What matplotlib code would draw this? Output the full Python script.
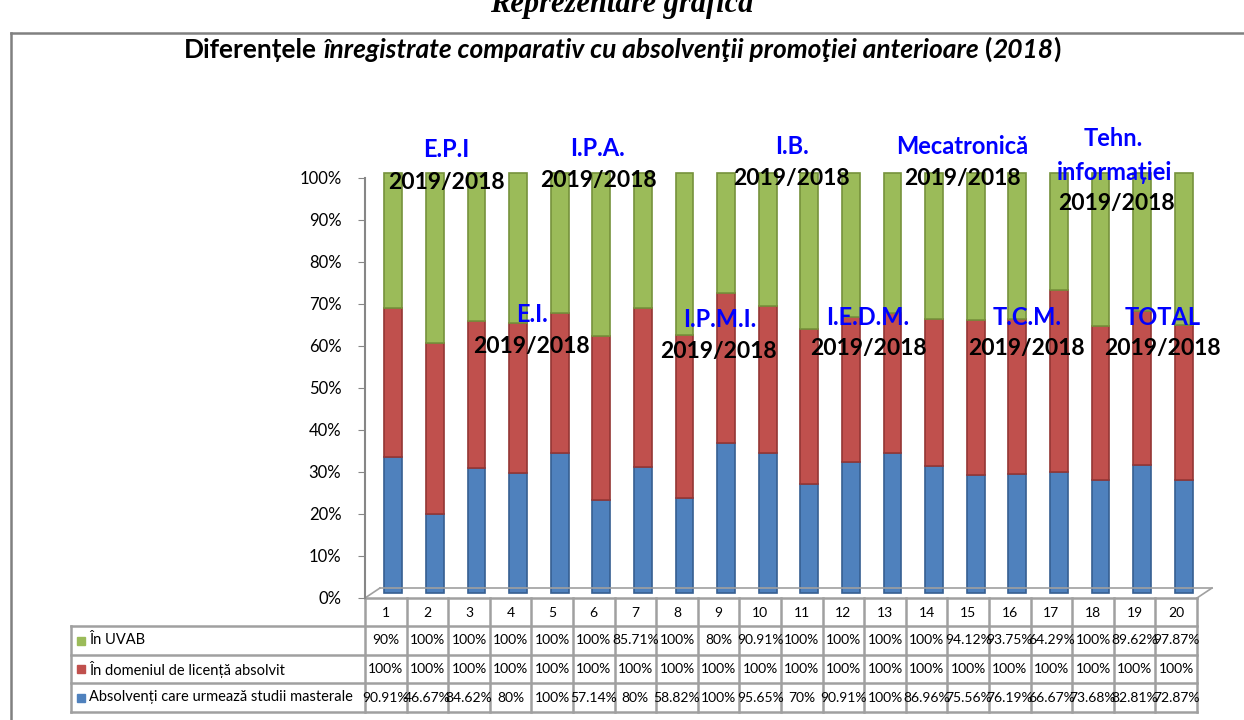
import numpy as np
import matplotlib
matplotlib.use('Agg')
import matplotlib.pyplot as plt
from matplotlib.transforms import ScaledTranslation
from matplotlib.patches import Rectangle

plt.rcParams['font.family'] = ['Lato', 'DejaVu Sans']

#---------------------Data---------------------
categories = ['1', '2', '3', '4', '5', '6', '7', '8', '9', '10',
              '11', '12', '13', '14', '15', '16', '17', '18', '19', '20']
series_names = ['În UVAB', 'În domeniul de licență absolvit',
                'Absolvenți care urmează studii masterale']
uvab = [90, 100, 100, 100, 100, 100, 85.71, 100, 80, 90.91,
        100, 100, 100, 100, 94.12, 93.75, 64.29, 100, 89.62, 97.87]
domeniu = [100, 100, 100, 100, 100, 100, 100, 100, 100, 100,
           100, 100, 100, 100, 100, 100, 100, 100, 100, 100]
masterat = [90.91, 46.67, 84.62, 80, 100, 57.14, 80, 58.82, 100, 95.65,
            70, 90.91, 100, 86.96, 75.56, 76.19, 66.67, 73.68, 82.81, 72.87]

prog_names = ['E.P.I', 'I.P.A.', 'E.I.', 'I.P.M.I.', 'I.B.', 'Mecatronică',
              'Tehn.', 'informației', 'I.E.D.M.', 'T.C.M.', 'TOTAL']
prog_x = [1.45, 5.10, 3.51, 8.03, 9.76, 13.85, 17.48, 17.53, 11.59, 15.41, 18.68]
prog_y = [106.7, 107.1, 67.4, 66.2, 107.4, 107.6, 109.5, 101.4, 66.9, 66.9, 66.9]
year_label = '2019/2018'
year_x = [1.45, 5.12, 3.51, 8.0, 9.74, 13.85, 17.56, 11.61, 15.41, 18.68]
year_y = [99.0, 99.3, 59.8, 58.6, 99.8, 99.8, 94.0, 59.5, 59.3, 59.3]

#---------------------Style---------------------
W, H = 1244, 720
X0, X1 = 365, 1197        # plot / table columns (pixels)
Y0, Y100 = 598, 178       # 0% and 100% (pixels)
c_green, c_red, c_blue = '#9BBB59', '#C0504D', '#4F81BD'
e_green, e_red, e_blue = '#76923C', '#943634', '#365F91'
grid_c = '#A0A0A0'

fig = plt.figure(figsize=(W/100, H/100), dpi=100)
ax = fig.add_axes([X0/W, 1-Y0/H, (X1-X0)/W, (Y0-Y100)/H])
ov = fig.add_axes([0, 0, 1, 1], zorder=-1)
ov.set_xlim(0, W)
ov.set_ylim(H, 0)
ov.axis('off')

#---------------------Bars (100% stacked)---------------------
x = np.arange(len(categories))
tot = np.array(uvab) + np.array(domeniu) + np.array(masterat)
p_blue = 100*np.array(masterat)/tot
p_red = 100*np.array(domeniu)/tot
p_green = 100*np.array(uvab)/tot

bar_tr = ax.transData + ScaledTranslation(0.075, 0.05, fig.dpi_scale_trans)
for vals, bot, col, ec in [(p_blue, 0, c_blue, e_blue),
                           (p_red, p_blue, c_red, e_red),
                           (p_green, p_blue+p_red, c_green, e_green)]:
    bars = ax.bar(x, vals, 0.43, bottom=bot, color=col, edgecolor=ec, linewidth=1.2)
    for b in bars:
        b.set_transform(bar_tr)
        b.set_clip_on(False)

ax.set_xlim(-0.5, len(categories)-0.5)
ax.set_ylim(0, 100)
ax.set_yticks(np.arange(0, 101, 10))
ax.set_yticklabels([f'{v}%' for v in range(0, 101, 10)], fontsize=12)
ax.set_xticks([])
ax.tick_params(axis='y', length=5, color='#868686', pad=12)
for s in ['top', 'right', 'bottom']:
    ax.spines[s].set_visible(False)
ax.spines['left'].set_color('#868686')
ax.spines['left'].set_linewidth(1.5)
ax.patch.set_visible(False)

# 3D floor
fl_tr = ax.transData + ScaledTranslation(0.15, 0.10, fig.dpi_scale_trans)
ax.plot([-0.5, len(categories)-0.5], [0, 0], transform=fl_tr, color=grid_c, lw=1.2, clip_on=False)
ov.plot([X0, X0+15], [Y0, Y0-10], color=grid_c, lw=1.2)
ov.plot([X1, X1+15], [Y0, Y0-10], color=grid_c, lw=1.2)

# annotations
for s, xx, yy in zip(prog_names, prog_x, prog_y):
    ax.text(xx, yy, s, color='#0000FF', fontsize=17, fontweight='bold',
            ha='center', va='center', clip_on=False)
for xx, yy in zip(year_x, year_y):
    ax.text(xx, yy, year_label, color='black', fontsize=16.5, fontweight='bold',
            ha='center', va='center', clip_on=False)

#---------------------Table---------------------
cw = (X1 - X0)/len(categories)
row_top = [626, 655, 683]
row_bot = [655, 683, 712]
TL = 71
ov.plot([X0, X1], [Y0, Y0], color=grid_c, lw=1.8)
ov.plot([TL, X1], [626, 626], color=grid_c, lw=1.8)
for yy in row_bot:
    ov.plot([TL, X1], [yy, yy], color=grid_c, lw=1.8)
ov.plot([TL, TL], [626, 712], color=grid_c, lw=1.8)
for i in range(len(categories)+1):
    ov.plot([X0+i*cw]*2, [Y0, 712], color=grid_c, lw=1.8)
for i, c in enumerate(categories):
    ov.text(X0+(i+0.5)*cw, 613, c, ha='center', va='center', fontsize=10)
rows = [(series_names[0], c_green, uvab),
        (series_names[1], c_red, domeniu),
        (series_names[2], c_blue, masterat)]
for (name, col, vals), t, b in zip(rows, row_top, row_bot):
    yc = (t+b)/2
    ov.add_patch(Rectangle((77, yc-4), 8, 8, color=col))
    ov.text(89, yc, name, ha='left', va='center', fontsize=10.5)
    for i, v in enumerate(vals):
        ov.text(X0+(i+0.5)*cw, yc, f'{v:g}%', ha='center', va='center', fontsize=10)

#---------------------Frame & titles---------------------
ov.plot([11, 11], [33, H], color='#808080', lw=1.8)
ov.plot([11, W], [33, 33], color='#808080', lw=1.8)
ov.text(622, 12, 'Reprezentare grafică', ha='center', va='baseline', fontsize=22,
        fontweight='bold', fontstyle='italic', family=['Liberation Serif'])

fig.canvas.draw()
r = fig.canvas.get_renderer()
pieces = [('Diferențele', 'normal', True), ('înregistrate comparativ cu absolvenţii promoţiei anterioare', 'italic', True),
          ('(', 'normal', False), ('2018', 'italic', False), (')', 'normal', False)]
tsize = 19
tmp = ov.text(0, 0, 'x x', fontsize=tsize, fontweight='bold')
tmp2 = ov.text(0, 0, 'xx', fontsize=tsize, fontweight='bold')
gap = tmp.get_window_extent(r).width - tmp2.get_window_extent(r).width
tmp.remove()
tmp2.remove()
arts = []
total = 0
for s, st, sp in pieces:
    t = ov.text(0, 58, s, fontsize=tsize, fontweight='bold', fontstyle=st, ha='left', va='baseline')
    w = t.get_window_extent(r).width
    arts.append((t, w, sp))
    total += w + (gap if sp else 0)
xs = 622 - total/2
for t, w, sp in arts:
    t.set_x(xs)
    xs += w + (gap if sp else 0)

fig.savefig('out.png', dpi=100)
